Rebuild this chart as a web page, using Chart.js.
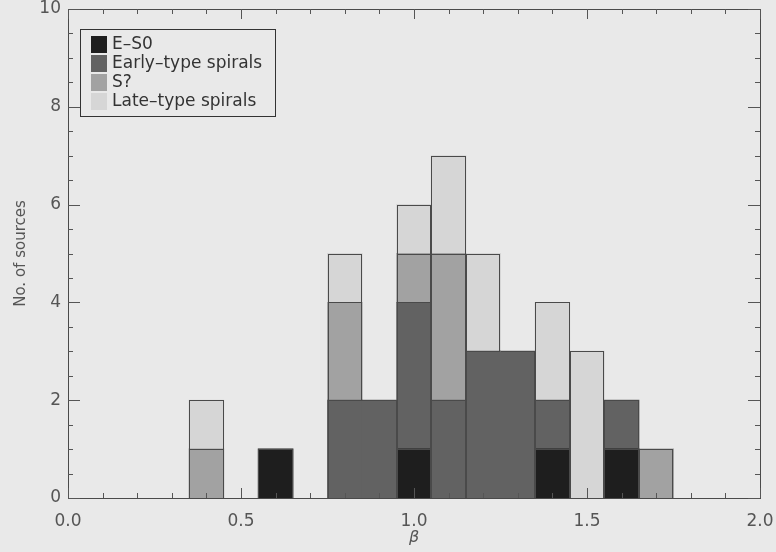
<!DOCTYPE html>
<html>
<head>
<meta charset="utf-8">
<script src="https://cdn.jsdelivr.net/npm/chart.js@4.4.1/dist/chart.umd.min.js"></script>
<style>
  html, body { margin: 0; padding: 0; background: #e9e9e9; }
  #wrap { width: 776px; height: 552px; position: relative; }
</style>
</head>
<body>
<div id="wrap"><canvas id="hist"></canvas></div>
<script>
// bin centres (beta), bins are 0.1 wide
const binCentres = [0.4, 0.5, 0.6, 0.7, 0.8, 0.9, 1.0, 1.1, 1.2, 1.3, 1.4, 1.5, 1.6, 1.7];
const countsES0   = [0, 0, 1, 0, 0, 0, 1, 0, 0, 0, 1, 0, 1, 0];
const countsEarly = [0, 0, 0, 0, 2, 2, 3, 2, 3, 3, 1, 0, 1, 0];
const countsSq    = [1, 0, 0, 0, 2, 0, 1, 3, 0, 0, 0, 0, 0, 1];
const countsLate  = [1, 0, 0, 0, 1, 0, 1, 2, 2, 0, 2, 3, 0, 0];
const seriesLabels = ['E\u2013S0', 'Early\u2013type spirals', 'S?', 'Late\u2013type spirals'];

const xTicks = [0.0, 0.5, 1.0, 1.5, 2.0];
const xMinor = [0.1, 0.2, 0.3, 0.4, 0.6, 0.7, 0.8, 0.9, 1.1, 1.2, 1.3, 1.4, 1.6, 1.7, 1.8, 1.9];
const yTicks = [0, 2, 4, 6, 8, 10];
const yMinor = [0.5, 1, 1.5, 2.5, 3, 3.5, 4.5, 5, 5.5, 6.5, 7, 7.5, 8.5, 9, 9.5];

const fills = ['#1e1e1e', '#626262', '#a2a2a2', '#d6d6d6'];
const edge = '#4a4a4a';
const allCounts = [countsES0, countsEarly, countsSq, countsLate];

// base of each stacked block, needed to decide where outlines go
function baseOf(d, i) {
    let b = 0;
    for (let k = 0; k < d; k++) b += allCounts[k][i];
    return b;
}
function sameBlock(d, i, j) {
    if (j < 0 || j >= binCentres.length) return false;
    const a = allCounts[d][i], b = allCounts[d][j];
    if (!b) return false;
    return a === b && baseOf(d, i) === baseOf(d, j);
}

const datasets = allCounts.map((arr, d) => ({
    label: seriesLabels[d],
    data: binCentres.map((x, i) => ({ x: x, y: arr[i] ? arr[i] : null })),
    backgroundColor: fills[d],
    borderWidth: 0,
    inflateAmount: 0.5,
    barPercentage: 1.0,
    categoryPercentage: 1.0
}));

// step-histogram style outlines, taken from the bar elements
const outlines = {
    id: 'outlines',
    afterDatasetsDraw(chart) {
        const c = chart.ctx;
        c.save();
        c.strokeStyle = edge;
        c.lineWidth = 1;
        const seg = (x1, y1, x2, y2) => {
            c.beginPath(); c.moveTo(x1, y1); c.lineTo(x2, y2); c.stroke();
        };
        chart.data.datasets.forEach((ds, d) => {
            const meta = chart.getDatasetMeta(d);
            meta.data.forEach((el, i) => {
                if (!allCounts[d][i]) return;
                const p = el.getProps(['x', 'y', 'base', 'width'], true);
                const l = Math.round(p.x - p.width / 2) + 0.5;
                const r = Math.round(p.x + p.width / 2) - 0.5;
                const t = Math.round(p.y) + 0.5;
                const b = Math.round(p.base);
                seg(l - 0.5, t, r + 0.5, t);
                if (!sameBlock(d, i, i - 1)) seg(l, t, l, b);
                if (!sameBlock(d, i, i + 1)) seg(r, t, r, b);
            });
        });
        c.restore();
    }
};

const frameTicks = {
    id: 'frameTicks',
    afterDatasetsDraw(chart) {
        const c = chart.ctx;
        const a = chart.chartArea;
        const xs = chart.scales.x, ys = chart.scales.y;
        c.save();
        c.strokeStyle = '#4a4a4a';
        c.lineWidth = 1;
        c.strokeRect(a.left + 0.5, a.top + 0.5, a.right - a.left, a.bottom - a.top);
        c.strokeStyle = '#555';
        const tick = (x1, y1, x2, y2) => {
            c.beginPath(); c.moveTo(x1, y1); c.lineTo(x2, y2); c.stroke();
        };
        xTicks.forEach(v => {
            const px = Math.round(xs.getPixelForValue(v)) + 0.5;
            tick(px, a.bottom, px, a.bottom - 10);
            tick(px, a.top, px, a.top + 10);
        });
        xMinor.forEach(v => {
            const px = Math.round(xs.getPixelForValue(v)) + 0.5;
            tick(px, a.bottom, px, a.bottom - 5);
            tick(px, a.top, px, a.top + 5);
        });
        yTicks.forEach(v => {
            const py = Math.round(ys.getPixelForValue(v)) + 0.5;
            tick(a.left, py, a.left + 12, py);
            tick(a.right, py, a.right - 12, py);
        });
        yMinor.forEach(v => {
            const py = Math.round(ys.getPixelForValue(v)) + 0.5;
            tick(a.left, py, a.left + 5, py);
            tick(a.right, py, a.right - 5, py);
        });

        // legend box, top-left inside the plot
        const lx = 80, ly = 29, lw = 195, lh = 87;
        c.strokeStyle = '#333';
        c.strokeRect(lx + 0.5, ly + 0.5, lw, lh);
        c.font = '17px "DejaVu Sans"';
        c.textBaseline = 'middle';
        chart.data.datasets.forEach((ds, k) => {
            const cy = 44 + k * 19;
            c.fillStyle = ds.backgroundColor;
            c.fillRect(91, cy - 8, 16, 17);
            c.fillStyle = '#333';
            c.fillText(ds.label, 112, cy + 1);
        });
        c.restore();
    }
};

new Chart(document.getElementById('hist'), {
    type: 'bar',
    data: { datasets: datasets },
    options: {
        responsive: true,
        maintainAspectRatio: false,
        animation: false,
        layout: { padding: { left: 0, top: 9, right: 16, bottom: 0 } },
        plugins: { legend: { display: false }, tooltip: { enabled: false } },
        scales: {
            x: {
                type: 'linear', min: 0, max: 2, offset: false, stacked: true,
                grid: { display: false, drawTicks: false }, border: { display: false },
                afterBuildTicks: s => { s.ticks = xTicks.map(v => ({ value: v })); },
                ticks: { color: '#555', padding: 13, font: { family: 'DejaVu Sans', size: 17 },
                         callback: v => v.toFixed(1), autoSkip: false, maxRotation: 0 },
                title: { display: true, text: '\u03b2', color: '#555',
                         font: { family: 'DejaVu Sans', size: 16, style: 'italic' }, padding: { top: 0, bottom: 5 } },
                afterFit: s => { s.height = 54; s.paddingLeft = 0; s.paddingRight = 0; }
            },
            y: {
                min: 0, max: 10, stacked: true,
                grid: { display: false, drawTicks: false }, border: { display: false },
                afterBuildTicks: s => { s.ticks = yTicks.map(v => ({ value: v })); },
                ticks: { color: '#555', padding: 7, font: { family: 'DejaVu Sans', size: 17 } },
                title: { display: true, text: 'No. of sources', color: '#555',
                         font: { family: 'DejaVu Sans', size: 15 }, padding: { top: 12, bottom: 0 } },
                afterFit: s => { s.width = 68; s.paddingTop = 0; s.paddingBottom = 0; }
            }
        }
    },
    plugins: [outlines, frameTicks]
});
</script>
</body>
</html>
